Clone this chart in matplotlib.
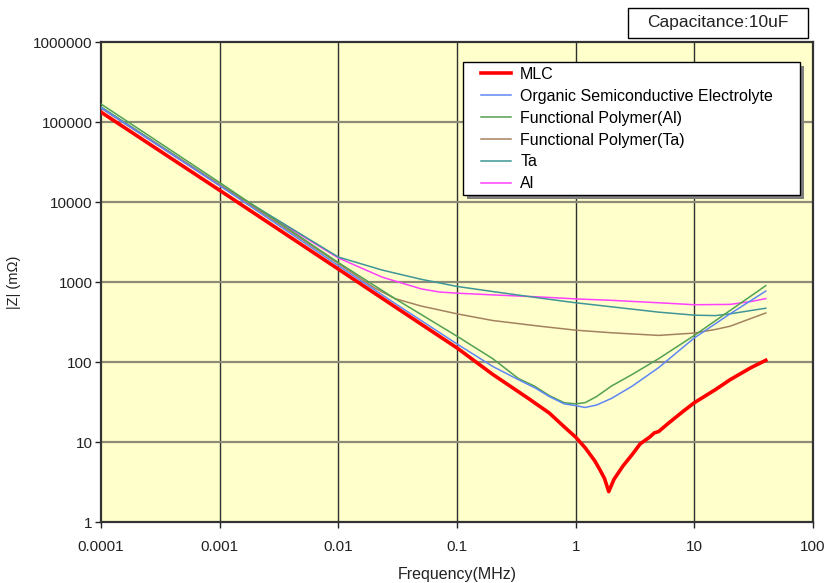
import matplotlib
matplotlib.use("Agg")
import matplotlib.pyplot as plt
from matplotlib.ticker import FixedLocator, FixedFormatter, NullLocator
from matplotlib.patches import Rectangle

plt.rcParams['font.family'] = ['Liberation Sans', 'DejaVu Sans']

# ---- data ----
mlc_f = [1e-4, 1e-3, 1e-2, 0.03, 0.1, 0.2, 0.4, 0.6, 0.8, 1.0, 1.2, 1.45, 1.6, 1.75, 1.9,
         2.1, 2.5, 3.0, 3.5, 4.2, 4.6, 5.0, 6.0, 8.0, 10, 15, 20, 30, 40]
mlc_z = [133000, 14000, 1450, 490, 150, 70, 35, 23, 15.5, 11.5, 8.5, 5.8, 4.5, 3.5, 2.4,
         3.4, 5.0, 7.0, 9.5, 11.5, 13, 13.5, 17, 24, 31, 45, 60, 85, 105]

ose_f = [1e-4, 1e-3, 1e-2, 0.03, 0.1, 0.2, 0.33, 0.46, 0.6, 0.8, 1.0, 1.2, 1.5, 2, 3, 5, 10, 20, 40]
ose_z = [150000, 16000, 1600, 540, 168, 88, 60, 47, 37, 30, 28.5, 27, 29, 35, 50, 85, 200, 400, 770]

fpal_f = [1e-4, 1e-3, 1e-2, 0.03, 0.1, 0.2, 0.33, 0.45, 0.6, 0.8, 1.0, 1.2, 1.5, 2, 3, 5, 10, 20, 40]
fpal_z = [168000, 17500, 1750, 620, 210, 110, 62, 50, 38, 31, 30, 31, 37, 50, 70, 110, 215, 440, 900]

fpta_f = [1e-4, 1e-3, 1e-2, 0.02, 0.03, 0.05, 0.071, 0.1, 0.2, 0.5, 1, 2, 5, 10, 15, 20, 30, 40]
fpta_z = [150000, 16500, 1700, 850, 620, 500, 447, 400, 330, 280, 250, 232, 215, 230, 255, 280, 350, 410]

ta_f = [1e-4, 1e-3, 1e-2, 0.0234, 0.05, 0.071, 0.1, 0.2, 0.5, 1, 2, 5, 10, 15, 20, 30, 40]
ta_z = [155000, 16500, 2050, 1410, 1080, 975, 880, 760, 630, 550, 490, 420, 385, 380, 400, 440, 470]

al_f = [1e-4, 1e-3, 1e-2, 0.0234, 0.05, 0.071, 0.1, 0.2, 0.5, 1, 2, 5, 10, 20, 30, 40]
al_z = [150000, 16000, 2000, 1150, 820, 750, 725, 690, 650, 615, 590, 550, 520, 525, 570, 620]

x_ticks = [1e-4, 1e-3, 1e-2, 0.1, 1, 10, 100]
x_labels = ["0.0001", "0.001", "0.01", "0.1", "1", "10", "100"]
y_ticks = [1, 10, 100, 1000, 10000, 100000, 1000000]
y_labels = ["1", "10", "100", "1000", "10000", "100000", "1000000"]

series = [
    ("MLC", mlc_f, mlc_z, "#FF0000", 2.6),
    ("Organic Semiconductive Electrolyte", ose_f, ose_z, "#5F86F5", 1.1),
    ("Functional Polymer(Al)", fpal_f, fpal_z, "#52A052", 1.1),
    ("Functional Polymer(Ta)", fpta_f, fpta_z, "#A5825F", 1.1),
    ("Ta", ta_f, ta_z, "#3F9696", 1.1),
    ("Al", al_f, al_z, "#FF40FF", 1.1),
]

W, H = 826, 583
L, R, T, B = 101, 813, 42, 522
fig = plt.figure(figsize=(W/100, H/100), dpi=100)
ax = fig.add_axes([L/W, 1-B/H, (R-L)/W, (B-T)/H])
ax.set_facecolor("#FFFFCC")
ax.set_xscale("log")
ax.set_yscale("log")
ax.set_xlim(1e-4, 100)
ax.set_ylim(1, 1e6)

for xt in x_ticks[1:-1]:
    ax.axvline(xt, color="#303030", lw=1.0, zorder=1)
for yt in y_ticks[1:-1]:
    ax.axhline(yt, color="#8C8C78", lw=1.6, zorder=1)

handles = []
for name, f, z, c, lw in reversed(series):
    h, = ax.plot(f, z, color=c, lw=lw, label=name, zorder=3, solid_joinstyle="round")
    handles.append(h)
handles = handles[::-1]

ax.xaxis.set_major_locator(FixedLocator(x_ticks))
ax.xaxis.set_major_formatter(FixedFormatter(x_labels))
ax.yaxis.set_major_locator(FixedLocator(y_ticks))
ax.yaxis.set_major_formatter(FixedFormatter(y_labels))
ax.xaxis.set_minor_locator(NullLocator())
ax.yaxis.set_minor_locator(NullLocator())
ax.tick_params(axis="both", labelsize=11, colors="#222222", length=4, width=1)
ax.tick_params(axis="x", pad=9)
ax.tick_params(axis="y", pad=2)

for s in ax.spines.values():
    s.set_color("#333333")
    s.set_linewidth(1.6)

ax.set_xlabel("Frequency(MHz)", fontsize=11.5, color="#222222", labelpad=9)
ax.set_ylabel("|Z| (m\u03A9)", fontsize=10.5, color="#222222")
ax.yaxis.set_label_coords(-0.113, 0.5)

# legend box with shadow (axes coords)
aw, ah = R - L, B - T
bx0, bx1 = (463 - L)/aw, (800 - L)/aw
by1, by0 = 1 - (62 - T)/ah, 1 - (195 - T)/ah
ax.add_patch(Rectangle((bx0 + 4/aw, by0 - 4/ah), bx1 - bx0, by1 - by0, transform=ax.transAxes,
                       facecolor="#7F7F7F", edgecolor="none", zorder=5))
ax.add_patch(Rectangle((bx0, by0), bx1 - bx0, by1 - by0, transform=ax.transAxes,
                       facecolor="white", edgecolor="#000000", lw=1.0, zorder=6))

leg = ax.legend(handles=handles, loc="upper left",
                bbox_to_anchor=((481 - L)/aw, 1 - (67 - T)/ah),
                fontsize=11.5, frameon=False, borderpad=0, borderaxespad=0,
                labelspacing=0.43, handlelength=1.85, handletextpad=0.6)
leg.set_zorder(7)

# capacitance box
fig.patches.append(Rectangle((628/W, 1-38/H), 180/W, 30/H, transform=fig.transFigure,
                             facecolor="white", edgecolor="#000000", lw=1.0))
fig.text(718/W, 1-23/H, "Capacitance:10uF", ha="center", va="center",
         fontsize=12.5, color="#222222")

fig.savefig("out.png", dpi=100, facecolor="white")
